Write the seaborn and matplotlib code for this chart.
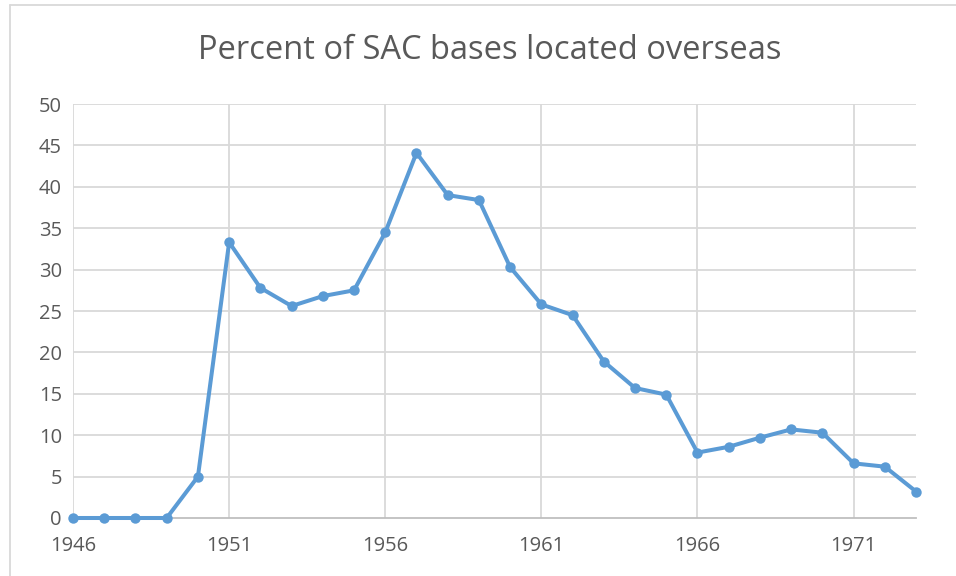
import numpy as np
import pandas as pd
import matplotlib
matplotlib.use("Agg")
import matplotlib.pyplot as plt
import seaborn as sns

years = list(range(1946, 1974))
percent = [0, 0, 0, 0, 5.0, 33.3, 27.8, 25.6, 26.8, 27.5, 34.5, 44.1, 39.0, 38.4,
           30.3, 25.8, 24.5, 18.9, 15.7, 14.9, 7.9, 8.6, 9.7, 10.7, 10.3, 6.6, 6.2, 3.2]
x_ticks = [1946, 1951, 1956, 1961, 1966, 1971]
y_ticks = list(range(0, 55, 5))

df = pd.DataFrame({"year": years, "percent": percent})

sns.set_style("white")
plt.rcParams['font.family'] = ['Open Sans', 'DejaVu Sans']

fig = plt.figure(figsize=(9.56, 5.76), dpi=100)
ax = fig.add_axes([0.0764, 0.1007, 0.8818, 0.7187])

grid_c = "#d9d9d9"
for y in y_ticks[1:]:
    ax.axhline(y, color=grid_c, lw=1.3, zorder=0)
for x in x_ticks:
    ax.axvline(x, color=grid_c, lw=1.3, zorder=0)

sns.lineplot(data=df, x="year", y="percent", ax=ax, color="#5b9bd5",
             linewidth=2.9, marker="o", markersize=7.5, markeredgewidth=0,
             zorder=3, clip_on=False)

ax.set_xlim(1946, 1973)
ax.set_ylim(0, 50)
ax.set_xticks(x_ticks)
ax.set_yticks(y_ticks)
ax.tick_params(axis="both", length=0, labelsize=14.5, labelcolor="#595959")
ax.tick_params(axis="x", pad=13)
ax.tick_params(axis="y", pad=8)
ax.set_xlabel("")
ax.set_ylabel("")
for s in ["top", "right", "left"]:
    ax.spines[s].set_visible(False)
ax.spines["bottom"].set_color("#bfbfbf")
ax.spines["bottom"].set_linewidth(1.3)

fig.text(0.512, 0.913, "Percent of SAC bases located overseas", ha="center",
         va="center", fontsize=23.5, color="#595959")

# chart frame (only top and left visible in reference)
fig.add_artist(plt.Line2D([0.0105, 0.0105], [0, 0.991], color="#d9d9d9", lw=1.3,
                          transform=fig.transFigure))
fig.add_artist(plt.Line2D([0.0105, 1], [0.991, 0.991], color="#d9d9d9", lw=1.3,
                          transform=fig.transFigure))

fig.savefig("out.png", dpi=100)
